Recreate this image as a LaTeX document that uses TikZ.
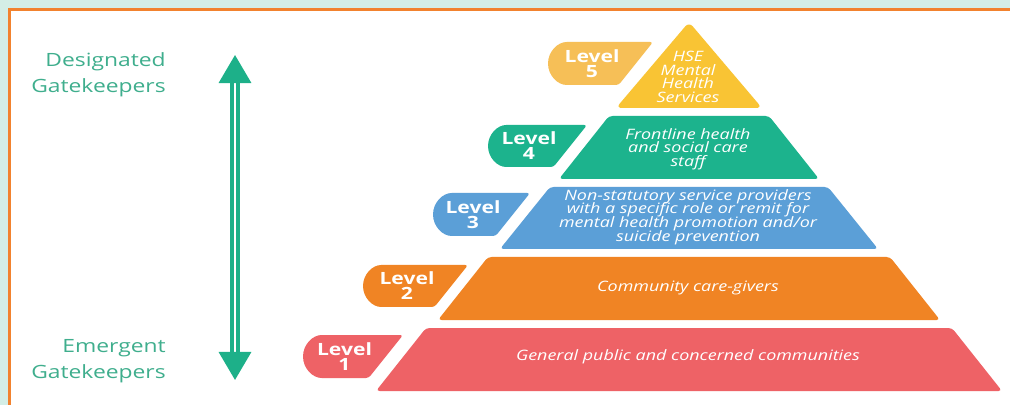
\documentclass[tikz,border=0pt]{standalone}
\usepackage{fontspec}
\setmainfont{Open Sans}[FakeStretch=1.25]
\usetikzlibrary{arrows.meta}

\definecolor{mint}{HTML}{D4EEE6}
\definecolor{framecol}{HTML}{F2822E}
\definecolor{gatecol}{HTML}{1DB089}
\definecolor{gatetextcol}{HTML}{3FAE8D}
\definecolor{lay5}{HTML}{F9C434}
\definecolor{badge5}{HTML}{F6BF57}
\definecolor{lay4}{HTML}{1CB38D}
\definecolor{lay3}{HTML}{5B9FD7}
\definecolor{lay2}{HTML}{F08424}
\definecolor{lay1}{HTML}{EE6266}

% tight lines in the tier labels, no \lineskip padding
\newcommand\tierfont{\fontsize{10.2}{9.75}\selectfont\itshape\setlength{\lineskiplimit}{-20pt}}

\tikzset{
  gatetext/.style={text=gatetextcol,align=right,anchor=east,inner sep=0pt,
    font=\fontsize{13}{18.5}\selectfont},
  leveltext/.style={text=white,align=center,inner sep=0pt,
    font=\fontsize{12}{10.7}\selectfont\bfseries},
  tiertext/.style={text=white,align=center,inner sep=0pt,font=\tierfont},
  layer/.style={rounded corners=2.5pt},
  badge/.style={rounded corners=2pt},
  gatearrow/.style={draw=gatecol,double=white,line width=2.5pt,double distance=2.1pt,
    arrows={Triangle[width=22.8pt,length=20pt]-Triangle[width=22.8pt,length=20pt]}}
}

\begin{document}
\begin{tikzpicture}[x=0.025cm,y=-0.025cm]
      \clip (0,0) rectangle (1010,405);
      \fill[mint] (0,0) rectangle (1010,405);
      \filldraw[fill=white,draw=framecol,line width=2.2pt] (9.5,9.5) rectangle (1030,430);

      \node[gatetext] (desig) at (166,75) {Designated\\Gatekeepers};
      \node[gatetext] (emerg) at (166,361) {Emergent\\Gatekeepers};

      \coordinate (up) at (235,55);
      \coordinate (down) at (235,380);
      \draw[gatearrow] (down) -- (up);

      \fill[layer,fill=lay1] (376,391) -- (426,328) -- (952,328) -- (1002,391) -- cycle;
      \fill[layer,fill=lay2] (438,320) -- (488,257) -- (890,257) -- (940,320) -- cycle;
      \fill[layer,fill=lay3] (500,249) -- (550,187) -- (828,187) -- (878,249) -- cycle;
      \fill[layer,fill=lay4] (559,179) -- (609,116) -- (769,116) -- (819,179) -- cycle;
      \fill[layer,fill=lay5,rounded corners=4pt] (616,108) -- (689,22) -- (762,108) -- cycle;

      \fill[badge,fill=lay1] (403,335) -- (368.6,378) -- (324.5,378) arc[start angle=90,end angle=270,radius=21.5] -- cycle;
      \fill[badge,fill=lay2] (468,265) -- (434.4,307) -- (384,307) arc[start angle=90,end angle=270,radius=21] -- cycle;
      \fill[badge,fill=lay3] (530,193) -- (495.6,236) -- (454.5,236) arc[start angle=90,end angle=270,radius=21.5] -- cycle;
      \fill[badge,fill=lay4] (587,125) -- (553.4,167) -- (509,167) arc[start angle=90,end angle=270,radius=21] -- cycle;
      \fill[badge,fill=badge5] (653,42) -- (618.6,85) -- (569.5,85) arc[start angle=90,end angle=270,radius=21.5] -- cycle;

      \node[leveltext] (lv1) at (344.5,356.5) {Level\\1};
      \node[leveltext] (lv2) at (407,286) {Level\\2};
      \node[leveltext] (lv3) at (473,214.5) {Level\\3};
      \node[leveltext] (lv4) at (529,146) {Level\\4};
      \node[leveltext] (lv5) at (592,63.5) {Level\\5};

      \node[tiertext] (t1) at (688,357) {General public and concerned communities};
      \node[tiertext] (t2) at (688,288) {Community care-givers};
      \node[tiertext] (t3) at (688,217) {Non-statutory service providers\\with a specific role or remit for\\mental health promotion and/or\\suicide prevention};
      \node[tiertext] (t4) at (688,149) {Frontline health\\and social care\\staff};
      \node[tiertext] (t5) at (688,77) {HSE\\Mental\\Health\\Services};
\end{tikzpicture}
\end{document}
